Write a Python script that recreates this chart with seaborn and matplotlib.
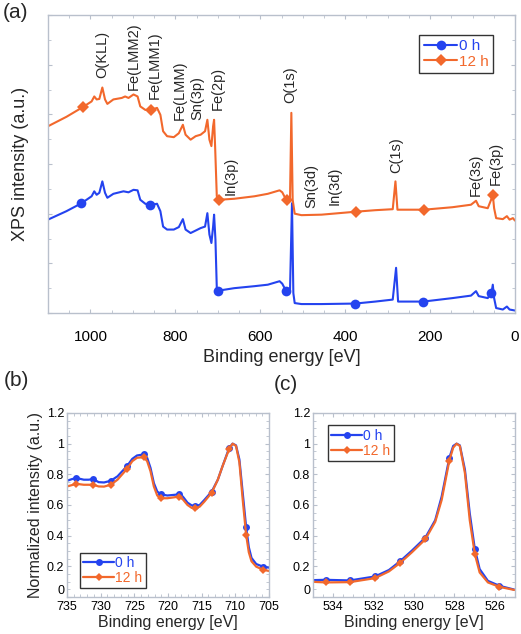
import matplotlib
matplotlib.use("Agg")
import matplotlib.pyplot as plt
import matplotlib.ticker as mticker
import seaborn as sns

# ---- (a) survey spectra (offset, arbitrary units) ----
survey_E_12h = [1100, 1056.6, 1017.1, 997.3, 991.0, 985.4, 979.1, 972.0, 965.7, 960.2, 946.0, 926.2,
                918.3, 910.4, 898.6, 889.0, 882.7, 870.9, 856.6, 843.2, 835.3, 828.9, 819.5, 803.7,
                791.8, 782.3, 776.0, 764.1, 752.2, 740.4, 730.1, 724.6, 719.8, 715.1, 711.1, 708.8,
                706.4, 702.4, 696.9, 661.3, 613.8, 582.2, 554.5, 548.2, 542.7, 536.3, 530.0, 526.8,
                523.7, 518.9, 503.1, 455.6, 374.2, 329.1, 288.0, 281.6, 276.9, 214.4, 147.2, 103.7,
                91.8, 85.5, 64.2, 56.3, 52.3, 49.2, 44.4, 28.6, 19.1, 12.8, 4.9, 0]
survey_I_12h = [3.76, 3.95, 4.15, 4.26, 4.36, 4.30, 4.31, 4.54, 4.30, 4.21, 4.30, 4.33,
                4.36, 4.33, 4.40, 4.36, 4.16, 4.09, 4.09, 4.13, 3.99, 3.66, 3.56, 3.54,
                3.62, 3.79, 3.59, 3.49, 3.56, 3.59, 3.66, 3.89, 3.49, 3.36, 3.76, 3.89,
                3.36, 2.35, 2.28, 2.30, 2.35, 2.40, 2.47, 2.43, 2.34, 2.28, 2.28, 4.03,
                2.28, 2.00, 1.97, 1.98, 2.04, 2.07, 2.09, 2.65, 2.08, 2.08, 2.13, 2.18,
                2.26, 2.15, 2.11, 2.28, 2.38, 2.11, 1.91, 1.89, 1.95, 1.88, 1.91, 1.86]
survey_mk_12h = [2, 18, 38, 45, 52, 57, 64]

survey_E_0h = [1100, 1056.6, 1021.1, 997.3, 991.0, 985.4, 979.1, 972.0, 965.7, 960.2, 946.0, 922.2,
               910.4, 898.6, 889.0, 882.7, 870.9, 859.0, 843.2, 835.3, 828.9, 819.5, 803.7, 791.8,
               782.3, 776.0, 764.1, 752.2, 740.4, 730.1, 724.6, 719.8, 715.1, 711.1, 708.8, 705.6,
               702.4, 698.5, 661.3, 613.8, 582.2, 554.5, 548.2, 542.7, 538.7, 530.0, 525.3, 522.1,
               518.9, 503.1, 455.6, 376.5, 329.1, 288.0, 280.1, 275.4, 216.0, 147.2, 103.7, 91.8,
               85.5, 64.2, 55.5, 52.3, 49.2, 44.4, 28.6, 19.1, 12.8, 0]
survey_I_0h = [1.88, 2.05, 2.21, 2.35, 2.45, 2.38, 2.42, 2.65, 2.42, 2.32, 2.40, 2.45,
               2.43, 2.48, 2.47, 2.28, 2.20, 2.17, 2.20, 2.05, 1.74, 1.68, 1.68, 1.73,
               1.89, 1.68, 1.61, 1.66, 1.71, 1.74, 2.01, 1.58, 1.41, 1.74, 1.98, 1.48,
               0.50, 0.45, 0.50, 0.54, 0.57, 0.64, 0.59, 0.50, 0.45, 0.44, 2.21, 0.40,
               0.20, 0.18, 0.18, 0.19, 0.23, 0.27, 0.91, 0.23, 0.23, 0.30, 0.35, 0.44,
               0.34, 0.30, 0.40, 0.57, 0.30, 0.10, 0.07, 0.13, 0.07, 0.05]
survey_mk_0h = [2, 17, 37, 44, 51, 56, 62]

peak_names = ["O(KLL)", "Fe(LMM2)", "Fe(LMM1)", "Fe(LMM)", "Sn(3p)", "Fe(2p)", "In(3p)",
              "O(1s)", "Sn(3d)", "In(3d)", "C(1s)", "Fe(3s)", "Fe(3p)"]
peak_E = [973, 898, 849, 789, 748, 700, 669, 530, 479, 424, 280, 92, 46]
peak_y = [4.73, 4.48, 4.30, 3.89, 3.89, 4.09, 2.38, 4.23, 2.11, 2.18, 2.82, 2.35, 2.58]

# ---- (b) Fe 2p ----
fe_E = [735.0, 734.25, 733.6, 732.5, 731.8, 731.1, 730.3, 729.5, 728.5, 727.5, 726.8, 726.1,
        725.3, 724.6, 723.6, 723.1, 722.6, 722.1, 721.6, 721.1, 720.1, 719.1, 718.4, 717.8,
        717.1, 716.5, 716.0, 715.3, 714.6, 713.5, 712.6, 711.9, 710.9, 710.4, 709.9, 709.4,
        708.9, 708.4, 708.0, 707.6, 706.9, 705.9, 704.7]
fe_0h = [0.758, 0.769, 0.776, 0.765, 0.765, 0.769, 0.749, 0.747, 0.758, 0.787, 0.820, 0.853,
         0.901, 0.923, 0.930, 0.908, 0.842, 0.743, 0.688, 0.670, 0.662, 0.666, 0.670, 0.655,
         0.615, 0.598, 0.593, 0.600, 0.633, 0.688, 0.765, 0.853, 0.974, 1.000, 0.989, 0.897,
         0.677, 0.457, 0.325, 0.255, 0.215, 0.198, 0.189]
fe_12h = [0.721, 0.730, 0.738, 0.732, 0.732, 0.732, 0.721, 0.720, 0.732, 0.765, 0.800, 0.835,
          0.886, 0.908, 0.912, 0.886, 0.820, 0.721, 0.662, 0.644, 0.644, 0.650, 0.655, 0.637,
          0.600, 0.582, 0.578, 0.589, 0.622, 0.681, 0.765, 0.853, 0.967, 1.000, 0.985, 0.879,
          0.633, 0.407, 0.292, 0.233, 0.198, 0.178, 0.167]
fe_mk = [2, 5, 8, 11, 14, 19, 22, 26, 29, 32, 37, 41]

# ---- (c) O 1s ----
o_E = [535.0, 534.38, 533.17, 531.93, 531.24, 530.69, 530.10, 529.44, 528.95, 528.63, 528.25,
       528.06, 527.89, 527.73, 527.48, 527.24, 526.99, 526.75, 526.34, 525.77, 525.03]
o_0h = [0.110, 0.112, 0.108, 0.134, 0.176, 0.233, 0.303, 0.387, 0.501, 0.655, 0.908,
        0.985, 1.000, 0.989, 0.831, 0.545, 0.314, 0.182, 0.105, 0.073, 0.048]
o_12h = [0.099, 0.095, 0.097, 0.123, 0.167, 0.222, 0.292, 0.376, 0.490, 0.633, 0.890,
         0.974, 1.000, 0.985, 0.809, 0.501, 0.281, 0.160, 0.095, 0.066, 0.046]
o_mk = [1, 2, 3, 5, 7, 10, 16, 19]

series = ["0 h", "12 h"]
blue = "#2443ef"
orange = "#f2682c"
frame = "#b9c0cc"

sns.set_theme(style="ticks")
plt.rcParams["font.family"] = ["Liberation Sans", "DejaVu Sans"]


def style_axes(ax, tick_size):
    for s in ax.spines.values():
        s.set_color(frame)
        s.set_linewidth(1.0)
    ax.tick_params(which="both", direction="in", top=True, right=True, color=frame,
                   labelsize=tick_size, labelcolor="black")
    ax.tick_params(which="major", length=3, width=0.8)
    ax.tick_params(which="minor", length=2, width=0.6)


def color_legend(leg):
    leg.get_frame().set_edgecolor("#333333")
    leg.get_frame().set_linewidth(1.0)
    for t, c in zip(leg.get_texts(), [blue, orange]):
        t.set_color(c)


fig = plt.figure(figsize=(5.21, 6.34), dpi=100)

# panel (a)
ax = fig.add_axes([48 / 521, 321 / 634, 467 / 521, 298 / 634])
sns.lineplot(x=survey_E_0h, y=survey_I_0h, ax=ax, sort=False, estimator=None, color=blue, lw=1.5,
             marker="o", ms=7, markevery=survey_mk_0h, mec=blue, mew=0, label=series[0])
sns.lineplot(x=survey_E_12h, y=survey_I_12h, ax=ax, sort=False, estimator=None, color=orange, lw=1.5,
             marker="D", ms=6, markevery=survey_mk_12h, mec=orange, mew=0, label=series[1])
ax.set_xlim(1100, 0)
ax.set_ylim(0, 6)
ax.xaxis.set_major_locator(mticker.MultipleLocator(200))
ax.xaxis.set_minor_locator(mticker.MultipleLocator(50))
ax.yaxis.set_major_locator(mticker.MultipleLocator(1))
ax.yaxis.set_minor_locator(mticker.MultipleLocator(0.5))
ax.set_yticklabels([])
style_axes(ax, 11)
ax.tick_params(axis="x", pad=12)
ax.set_xlabel("Binding energy [eV]", fontsize=13, labelpad=4)
ax.set_ylabel("XPS intensity (a.u.)", fontsize=13, labelpad=10)
for name, e, y in zip(peak_names, peak_E, peak_y):
    ax.text(e, y, name, rotation=90, ha="center", va="bottom", fontsize=10.5)
leg = ax.legend(loc="upper right", bbox_to_anchor=(0.97, 0.96), fontsize=11, fancybox=False,
                framealpha=1, handlelength=2.2, handletextpad=0.1, borderpad=0.3, labelspacing=0.1)
color_legend(leg)
fig.text(0.005, 0.995, "(a)", fontsize=15, ha="left", va="top")

# panel (b)
axb = fig.add_axes([67 / 521, 37 / 634, 202 / 521, 184 / 634])
sns.lineplot(x=fe_E, y=fe_0h, ax=axb, sort=False, estimator=None, color=blue, lw=1.6,
             marker="o", ms=5, markevery=fe_mk, mec=blue, mew=0, label=series[0])
sns.lineplot(x=fe_E, y=fe_12h, ax=axb, sort=False, estimator=None, color=orange, lw=1.6,
             marker="D", ms=4.5, markevery=fe_mk, mec=orange, mew=0, label=series[1])
axb.set_xlim(735, 705)
axb.set_ylim(0, 1.2)
axb.xaxis.set_major_locator(mticker.MultipleLocator(5))
axb.xaxis.set_minor_locator(mticker.MultipleLocator(1))
axb.yaxis.set_major_locator(mticker.MultipleLocator(0.2))
axb.yaxis.set_minor_locator(mticker.MultipleLocator(0.05))
axb.yaxis.set_major_formatter(mticker.FuncFormatter(lambda v, p: f"{v:g}"))
style_axes(axb, 9)
axb.tick_params(axis="x", pad=3)
axb.tick_params(axis="y", pad=2)
axb.set_xlabel("Binding energy [eV]", fontsize=11.5, labelpad=1)
axb.set_ylabel("Normalized intensity (a.u.)", fontsize=11.5, labelpad=3)
leg = axb.legend(loc="lower left", bbox_to_anchor=(0.03, 0.01), fontsize=10, fancybox=False,
                 framealpha=1, handlelength=2.2, handletextpad=0.1, borderpad=0.25, labelspacing=0.05)
color_legend(leg)
fig.text(0.008, 0.40, "(b)", fontsize=15, ha="left", va="center")

# panel (c)
axc = fig.add_axes([313 / 521, 37 / 634, 202 / 521, 184 / 634])
sns.lineplot(x=o_E, y=o_0h, ax=axc, sort=False, estimator=None, color=blue, lw=1.6,
             marker="o", ms=5, markevery=o_mk, mec=blue, mew=0, label=series[0])
sns.lineplot(x=o_E, y=o_12h, ax=axc, sort=False, estimator=None, color=orange, lw=1.6,
             marker="D", ms=4.5, markevery=o_mk, mec=orange, mew=0, label=series[1])
axc.set_xlim(535, 525)
axc.set_ylim(0, 1.2)
axc.xaxis.set_major_locator(mticker.MultipleLocator(2))
axc.xaxis.set_minor_locator(mticker.MultipleLocator(0.5))
axc.yaxis.set_major_locator(mticker.MultipleLocator(0.2))
axc.yaxis.set_minor_locator(mticker.MultipleLocator(0.05))
axc.yaxis.set_major_formatter(mticker.FuncFormatter(lambda v, p: f"{v:g}"))
style_axes(axc, 9)
axc.tick_params(axis="x", pad=3)
axc.tick_params(axis="y", pad=2)
axc.set_xlabel("Binding energy [eV]", fontsize=11.5, labelpad=1)
axc.set_ylabel("")
leg = axc.legend(loc="upper left", bbox_to_anchor=(0.04, 0.97), fontsize=10, fancybox=False,
                 framealpha=1, handlelength=2.2, handletextpad=0.1, borderpad=0.25, labelspacing=0.05)
color_legend(leg)
fig.text(0.525, 0.393, "(c)", fontsize=15, ha="left", va="center")

# the "0" y label sits just above the corner, clear of the first x label
fig.canvas.draw()
for a in (axb, axc):
    for lab in a.get_yticklabels():
        if lab.get_text() == "0":
            lab.set_va("bottom")

fig.savefig("out.png", dpi=100)
